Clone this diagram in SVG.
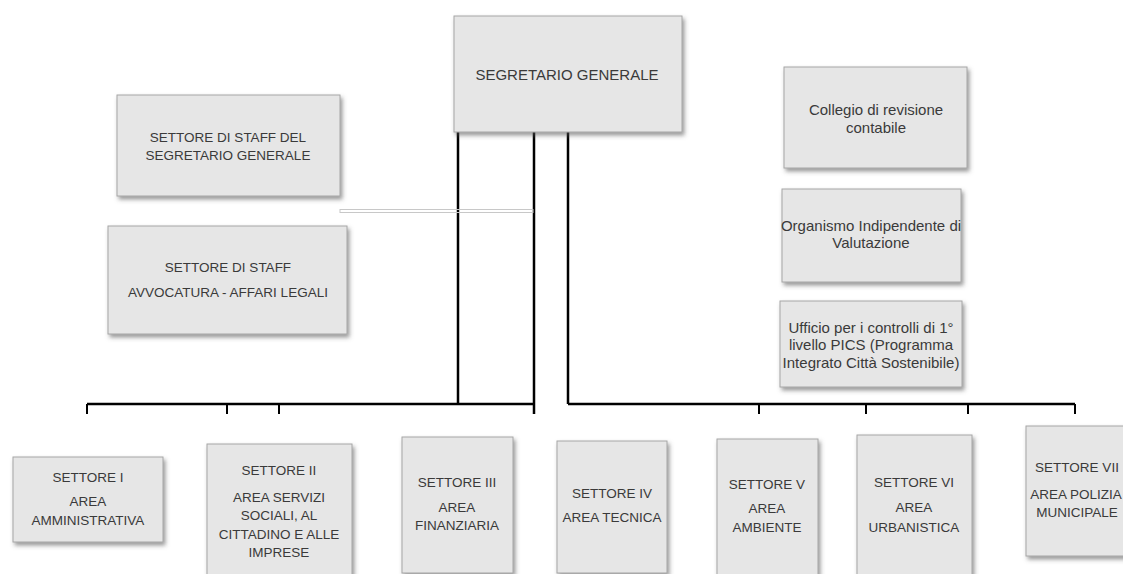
<svg xmlns="http://www.w3.org/2000/svg" width="1123" height="574" viewBox="0 0 1123 574">
<style>
.box{fill:#e6e6e6;stroke:#a6a6a6;stroke-width:1;filter:url(#sh)}
text{font-family:"Liberation Sans",Arial,sans-serif;font-size:13.5px;fill:#3a3a3a;text-anchor:middle}
.lc{font-size:15px}
.ln{stroke:#000;stroke-width:2.5;fill:none}
.tk{stroke:#000;stroke-width:2;fill:none}
</style>
<defs>
<filter id="sh" x="-10%" y="-10%" width="130%" height="130%">
<feDropShadow dx="2" dy="3" stdDeviation="2" flood-color="#555" flood-opacity="0.6"/>
</filter>
</defs>
<rect width="1123" height="574" fill="#fff"/>
<g id="connectors">
<path class="ln" d="M458 132V404M534 132V414M568 132V404M87 404H534M568 404H1075"/>
<path class="tk" d="M87 404V414M227 404V414M279 404V414M759 404V414M866 404V414M968 404V414M1075 404V414"/>
<rect x="340" y="209.5" width="193" height="3" fill="none" stroke="#c8c8c8" stroke-width="1"/>
</g>
<g id="segretario">
<rect class="box" x="454" y="16" width="228" height="116"/>
<text x="567" y="80" style="font-size:15px">SEGRETARIO GENERALE</text>
</g>
<g id="staff-segretario">
<rect class="box" x="117" y="95" width="223" height="101"/>
<text x="228" y="142">SETTORE DI STAFF DEL</text>
<text x="228" y="160">SEGRETARIO GENERALE</text>
</g>
<g id="staff-avvocatura">
<rect class="box" x="108" y="226" width="239" height="108"/>
<text x="228" y="272">SETTORE DI STAFF</text>
<text x="228" y="297">AVVOCATURA - AFFARI LEGALI</text>
</g>
<g id="collegio">
<rect class="box" x="784" y="67" width="183" height="101"/>
<text class="lc" x="876" y="115">Collegio di revisione</text>
<text class="lc" x="876" y="133">contabile</text>
</g>
<g id="oiv">
<rect class="box" x="782" y="189" width="179" height="93"/>
<text class="lc" x="871" y="231">Organismo Indipendente di</text>
<text class="lc" x="871" y="248">Valutazione</text>
</g>
<g id="ufficio-pics">
<rect class="box" x="780" y="301" width="182" height="86"/>
<text class="lc" x="871" y="333">Ufficio per i controlli di 1°</text>
<text class="lc" x="871" y="350">livello PICS (Programma</text>
<text class="lc" x="871" y="368">Integrato Città Sostenibile)</text>
</g>
<g id="settore-1">
<rect class="box" x="13" y="457" width="150" height="85"/>
<text x="88" y="482">SETTORE I</text>
<text x="88" y="506">AREA</text>
<text x="88" y="525">AMMINISTRATIVA</text>
</g>
<g id="settore-2">
<rect class="box" x="207" y="444" width="145" height="136"/>
<text x="279" y="475">SETTORE II</text>
<text x="279" y="502">AREA SERVIZI</text>
<text x="279" y="520">SOCIALI,  AL</text>
<text x="279" y="539">CITTADINO E ALLE</text>
<text x="279" y="557">IMPRESE</text>
</g>
<g id="settore-3">
<rect class="box" x="402" y="437" width="111" height="136"/>
<text x="457" y="487">SETTORE III</text>
<text x="457" y="512">AREA</text>
<text x="457" y="530">FINANZIARIA</text>
</g>
<g id="settore-4">
<rect class="box" x="557" y="441" width="110" height="132"/>
<text x="612" y="498">SETTORE IV</text>
<text x="612" y="522">AREA TECNICA</text>
</g>
<g id="settore-5">
<rect class="box" x="717" y="439" width="101" height="140"/>
<text x="767" y="489">SETTORE V</text>
<text x="767" y="513">AREA</text>
<text x="767" y="532">AMBIENTE</text>
</g>
<g id="settore-6">
<rect class="box" x="857" y="435" width="115" height="144"/>
<text x="914" y="487">SETTORE VI</text>
<text x="914" y="512">AREA</text>
<text x="914" y="532">URBANISTICA</text>
</g>
<g id="settore-7">
<rect class="box" x="1026" y="426" width="110" height="130"/>
<text x="1077" y="472">SETTORE VII</text>
<text x="1076" y="499">AREA POLIZIA</text>
<text x="1077" y="517">MUNICIPALE</text>
</g>
</svg>
